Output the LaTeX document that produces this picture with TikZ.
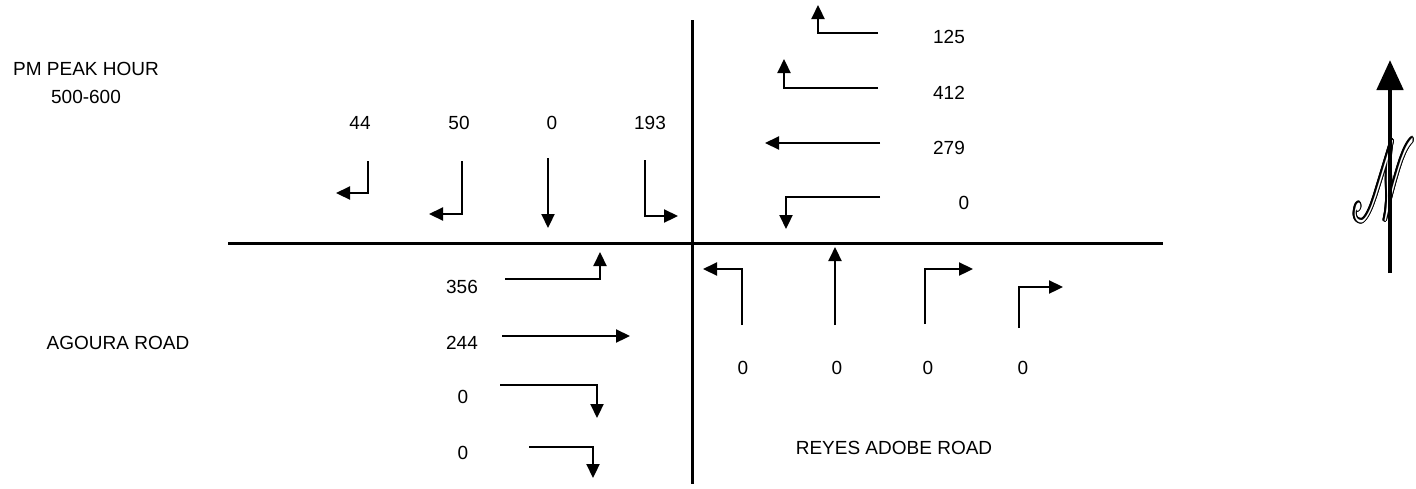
\documentclass[tikz,border=0pt]{standalone}
\usepackage{fontspec}
\setmainfont{Liberation Sans}
\usepackage{mathrsfs}
\usetikzlibrary{arrows.meta}

% script N used on the north arrow
\newcommand{\northletter}{\resizebox{31pt}{40pt}{$\mathscr{N}$}}

\begin{document}
\begin{tikzpicture}[x=0.5pt,y=-0.5pt,
  road/.style={line width=1.5pt},
  mv/.style={line width=1.1pt,line join=miter,-{Triangle[length=7pt,width=6.5pt]}},
  lbl/.style={font=\fontsize{9.5}{11}\selectfont,inner sep=0pt}]
\useasboundingbox (0,0) rectangle (1416,488);

% road centre lines
\coordinate (ew-w) at (228,243);
\coordinate (ew-e) at (1163,243);
\coordinate (ns-n) at (692,20);
\coordinate (ns-s) at (692,484);
\draw[road] (ew-w) -- (ew-e);
\draw[road] (ns-n) -- (ns-s);

% titles and street names
\node[lbl] (title) at (86,69) {PM PEAK HOUR};
\node[lbl] (hour) at (86,97) {500-600};
\node[lbl] (agoura) at (118,343) {AGOURA ROAD};
\node[lbl] (reyes) at (894,448) {REYES ADOBE ROAD};

% southbound approach
\node[lbl] (sb1) at (360,123) {44};
\node[lbl] (sb2) at (459,123) {50};
\node[lbl] (sb3) at (552,123) {0};
\node[lbl] (sb4) at (650,123) {193};
\draw[mv] (368,161) -- (368,193) -- (336,193);
\draw[mv] (462,161) -- (462,214) -- (429,214);
\draw[mv] (548,158) -- (548,228);
\draw[mv] (645,160) -- (645,216) -- (678,216);

% westbound approach
\node[lbl] (wb1) at (949,37) {125};
\node[lbl] (wb2) at (949,93) {412};
\node[lbl] (wb3) at (949,148) {279};
\node[lbl] (wb4) at (964,203) {0};
\draw[mv] (878,33) -- (818,33) -- (818,5);
\draw[mv] (878,88) -- (784,88) -- (784,59);
\draw[mv] (880,143) -- (765,143);
\draw[mv] (880,197) -- (786,197) -- (786,229);

% eastbound approach
\node[lbl] (eb1) at (462,287) {356};
\node[lbl] (eb2) at (462,343) {244};
\node[lbl] (eb3) at (463,397) {0};
\node[lbl] (eb4) at (463,453) {0};
\draw[mv] (505,279) -- (600,279) -- (600,252);
\draw[mv] (502,336) -- (630,336);
\draw[mv] (500,385) -- (597,385) -- (597,418);
\draw[mv] (529,447) -- (593,447) -- (593,478);

% northbound approach
\node[lbl] (nb1) at (743,368) {0};
\node[lbl] (nb2) at (837,368) {0};
\node[lbl] (nb3) at (928,368) {0};
\node[lbl] (nb4) at (1023,368) {0};
\draw[mv] (742,325) -- (742,269) -- (703,269);
\draw[mv] (835,325) -- (835,247);
\draw[mv] (925,324) -- (925,269) -- (973,269);
\draw[mv] (1019,328) -- (1019,287) -- (1063,287);

% north arrow with an outlined script N
\coordinate (nc) at (1384,180);
\foreach \a in {0,30,...,330}
  \node[inner sep=0pt,shift={(\a:0.6pt)}] at (nc) {\northletter};
\node[inner sep=0pt,text=white] (nletter) at (nc) {\northletter};
\coordinate (n-foot) at (1390,273);
\coordinate (n-tip) at (1390,60);
\draw[line width=2.4pt,-{Triangle[length=15pt,width=13pt]}] (n-foot) -- (n-tip);
\end{tikzpicture}
\end{document}
